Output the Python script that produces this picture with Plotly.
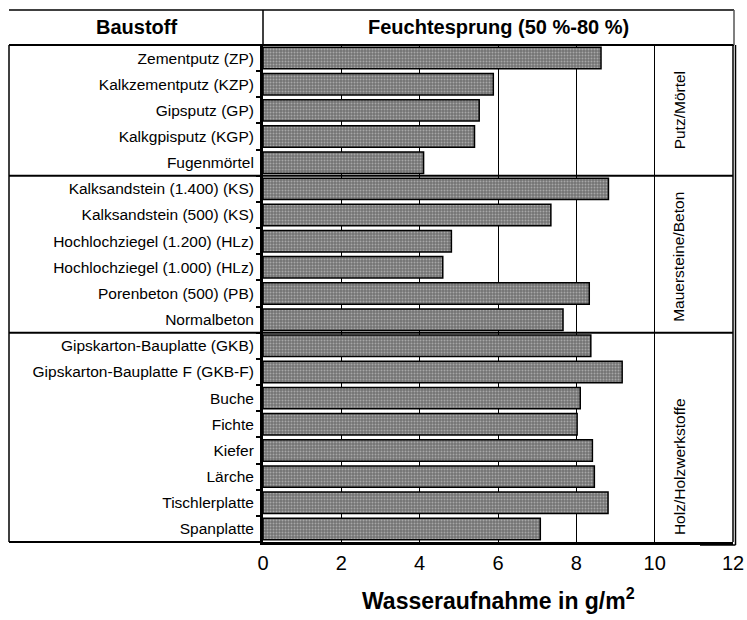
import plotly.graph_objects as go

# ---------- data ----------
baustoffe = [
    "Zementputz (ZP)", "Kalkzementputz (KZP)", "Gipsputz (GP)", "Kalkgpisputz (KGP)", "Fugenmörtel",
    "Kalksandstein (1.400) (KS)", "Kalksandstein (500) (KS)", "Hochlochziegel (1.200) (HLz)",
    "Hochlochziegel (1.000) (HLz)", "Porenbeton (500) (PB)", "Normalbeton",
    "Gipskarton-Bauplatte (GKB)", "Gipskarton-Bauplatte F (GKB-F)", "Buche", "Fichte", "Kiefer",
    "Lärche", "Tischlerplatte", "Spanplatte",
]
wasseraufnahme = [
    8.63, 5.88, 5.52, 5.40, 4.10,
    8.82, 7.35, 4.81, 4.59, 8.33, 7.66,
    8.37, 9.17, 8.10, 8.02, 8.41, 8.46, 8.81, 7.08,
]
gruppen = ["Putz/Mörtel", "Mauersteine/Beton", "Holz/Holzwerkstoffe"]
gruppen_pos = [2.0, 7.6, 15.6]       # label centre (category index)
gruppen_grenzen = [4.5, 10.5]        # separator lines between groups
x_ticks = [0, 2, 4, 6, 8, 10, 12]

# ---------- layout helpers (pixel -> paper) ----------
W, H = 747, 620
L, R, T, B = 263, 733, 45, 542
FONT = "Liberation Sans"


def px_x(p):
    return (p - L) / (R - L)


def px_y(p):
    return (B - p) / (B - T)


fig = go.Figure()
fig.add_trace(go.Bar(
    y=baustoffe,
    x=wasseraufnahme,
    orientation="h",
    width=0.82,
    marker=dict(
        color="#7a7a7a",
        line=dict(color="black", width=1.5),
        pattern=dict(shape=".", fgcolor="#dcdcdc", bgcolor="#727272", size=3, solidity=0.35),
    ),
    showlegend=False,
))

black = dict(color="black", width=1.5)
shapes = [
    # header box
    dict(type="line", xref="paper", yref="paper", x0=px_x(9), x1=px_x(734), y0=px_y(10), y1=px_y(10), line=black),
    dict(type="line", xref="paper", yref="paper", x0=px_x(9), x1=px_x(734), y0=1, y1=1, line=dict(color="black", width=2)),
    dict(type="line", xref="paper", yref="paper", x0=0, x1=0, y0=1, y1=px_y(10), line=black),
    dict(type="line", xref="paper", yref="paper", x0=px_x(734), x1=px_x(734), y0=1, y1=px_y(10), line=dict(color="#555", width=1.5)),
    # label column frame
    dict(type="line", xref="paper", yref="paper", x0=px_x(9), x1=px_x(9), y0=0, y1=1, line=black),
    dict(type="line", xref="paper", yref="paper", x0=px_x(9), x1=0, y0=0, y1=0, line=dict(color="black", width=2)),
    # right double border
    dict(type="line", xref="paper", yref="paper", x0=1, x1=1, y0=0, y1=1, line=black),
    dict(type="line", xref="paper", yref="paper", x0=px_x(735.5), x1=px_x(735.5), y0=px_y(545), y1=1, line=black),
    dict(type="line", xref="paper", yref="paper", x0=px_x(700), x1=px_x(735.5), y0=px_y(545), y1=px_y(545), line=black),
]
for g in gruppen_grenzen:
    shapes.append(dict(type="line", xref="paper", yref="y", x0=px_x(9), x1=1, y0=g, y1=g,
                       line=dict(color="black", width=2)))

annotations = [
    dict(text="<b>Baustoff</b>", xref="paper", yref="paper", x=px_x(136), y=px_y(27),
         xanchor="center", yanchor="middle",
         showarrow=False, font=dict(size=20, color="black", family=FONT)),
    dict(text="<b>Feuchtesprung (50 %-80 %)</b>", xref="paper", yref="paper", x=0.5, y=px_y(27),
         xanchor="center", yanchor="middle",
         showarrow=False, font=dict(size=20, color="black", family=FONT)),
    dict(text="<b>Wasseraufnahme in g/m<sup>2</sup></b>", xref="paper", yref="paper", x=0.5, y=px_y(599),
         xanchor="center", yanchor="middle",
         showarrow=False, font=dict(size=23, color="black", family=FONT)),
]
for name, pos in zip(gruppen, gruppen_pos):
    annotations.append(dict(text=name, x=10.62, y=pos, xref="x", yref="y", textangle=-90,
                            xanchor="center", yanchor="middle",
                            showarrow=False, font=dict(size=15.5, color="black", family=FONT)))

fig.update_layout(
    width=W, height=H, autosize=False,
    margin=dict(l=L, r=W - R, t=T, b=H - B, autoexpand=False),
    paper_bgcolor="white", plot_bgcolor="white",
    font=dict(family=FONT, color="black"),
    shapes=shapes,
    annotations=annotations,
)
fig.update_xaxes(
    range=[0, 12], tickvals=x_ticks, ticks="outside", ticklen=1, tickcolor="rgba(0,0,0,0)",
    showgrid=True, gridcolor="black", gridwidth=1, automargin=False,
    showline=True, linecolor="black", linewidth=3, zeroline=False,
    tickfont=dict(size=20, family=FONT, color="black"), fixedrange=True,
)
fig.update_yaxes(
    autorange="reversed", type="category", ticks="outside", tickson="boundaries", ticklen=4,
    tickcolor="black", tickwidth=1.5, showgrid=False, showline=True, linecolor="black", linewidth=3,
    automargin=False,
    tickfont=dict(size=15.5, family=FONT, color="black"), ticklabelstandoff=3, fixedrange=True,
)

# page body has a default 8px margin; remove it so the figure sits at the window origin
fig.write_html("out.html", config={"displayModeBar": False},
               post_script="document.body.style.margin='0';")
